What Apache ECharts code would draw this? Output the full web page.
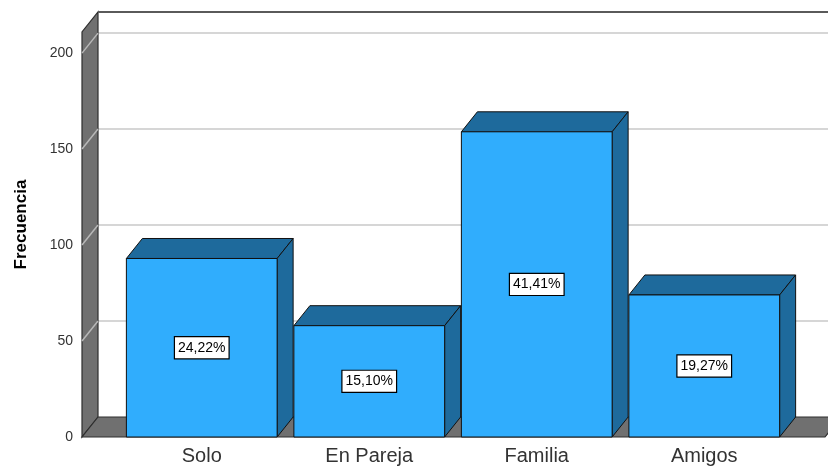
<!DOCTYPE html>
<html>
<head>
<meta charset="utf-8">
<script src="https://cdn.jsdelivr.net/npm/echarts@6/dist/echarts.min.js"></script>
<style>
  html, body { margin: 0; padding: 0; background: #fff; }
  #chart { width: 828px; height: 470px; }
</style>
</head>
<body>
<div id="chart"></div>
<script>
// datos (N = 384)
var categorias = ['Solo', 'En Pareja', 'Familia', 'Amigos'];
var frecuencias = [93, 58, 159, 74];
var porcentajes = ['24,22%', '15,10%', '41,41%', '19,27%'];
var yTicks = [0, 50, 100, 150, 200];

var FONT = '"Liberation Sans", Arial, sans-serif';
var DX = 16, DY = -20;          // profundidad del efecto 3D
var WALL_L = 36, WALL_R = 37;   // cuanto sobresale el suelo de las categorias

var chart = echarts.init(document.getElementById('chart'));

// paredes: izquierda, suelo, fondo con lineas de cuadricula
function renderWalls(params, api) {
    var cs = params.coordSys;
    var xl = cs.x - WALL_L, xr = cs.x + cs.width + WALL_R;
    var yt = cs.y, yb = cs.y + cs.height;
    var children = [];
    // lineas de cuadricula
    for (var i = 1; i < yTicks.length; i++) {
        var y = api.coord([0, yTicks[i]])[1];
        children.push({
            type: 'polyline',
            shape: { points: [[xl, y], [xl + DX, y + DY]] },
            style: { stroke: '#b8b8b8', lineWidth: 1.5, fill: null },
            z2: 3
        });
        children.push({
            type: 'line',
            shape: { x1: xl + DX, y1: y + DY, x2: xr + DX + 20, y2: y + DY },
            style: { stroke: '#d6d6d6', lineWidth: 2 },
            z2: 1
        });
    }
    // pared izquierda
    children.push({
        type: 'polygon',
        shape: { points: [[xl, yb], [xl, yt], [xl + DX, yt + DY], [xl + DX, yb + DY]] },
        style: { fill: '#707070', stroke: '#2e2e2e', lineWidth: 1.2 },
        z2: 2
    });
    // suelo
    children.push({
        type: 'polygon',
        shape: { points: [[xl, yb], [xr, yb], [xr + DX, yb + DY], [xl + DX, yb + DY]] },
        style: { fill: '#707070', stroke: '#2e2e2e', lineWidth: 1.2 },
        z2: 2
    });
    // borde superior del fondo
    children.push({
        type: 'line',
        shape: { x1: xl + DX, y1: yt + DY, x2: xr + DX + 20, y2: yt + DY },
        style: { stroke: '#5a5a5a', lineWidth: 2 },
        z2: 4
    });
    return { type: 'group', children: children };
}

function renderBar(params, api) {
    var idx = api.value(0), val = api.value(1);
    var p0 = api.coord([idx, 0]);
    var p1 = api.coord([idx, val]);
    var w = api.size([1, 0])[0] * 0.9;
    var x0 = p0[0] - w / 2, x1 = x0 + w;
    var yt = p1[1], yb = p0[1];
    var edge = { stroke: '#111', lineWidth: 1 };
    return {
        type: 'group',
        children: [
            {
                type: 'polygon',
                shape: { points: [[x0, yt], [x0 + DX, yt + DY], [x1 + DX, yt + DY], [x1, yt]] },
                style: Object.assign({ fill: '#1e6a9c' }, edge)
            },
            {
                type: 'polygon',
                shape: { points: [[x1, yt], [x1 + DX, yt + DY], [x1 + DX, yb + DY], [x1, yb]] },
                style: Object.assign({ fill: '#1e6a9c' }, edge)
            },
            {
                type: 'rect',
                shape: { x: x0, y: yt, width: w, height: yb - yt },
                style: Object.assign({ fill: '#30adfd' }, edge)
            },
            {
                type: 'text',
                x: (x0 + x1) / 2,
                y: (yt + yb) / 2,
                style: {
                    text: porcentajes[params.dataIndex],
                    font: '14px ' + FONT,
                    fill: '#000',
                    align: 'center',
                    verticalAlign: 'middle',
                    backgroundColor: '#fff',
                    borderColor: '#000',
                    borderWidth: 1.2,
                    padding: [4, 3, 3, 3]
                }
            }
        ]
    };
}

var option = {
    animation: false,
    backgroundColor: '#fff',
    grid: { left: 118, right: 40, top: 32, bottom: 33 },
    xAxis: {
        type: 'category',
        data: categorias,
        axisLine: { show: false },
        axisTick: { show: false },
        axisLabel: { margin: 9, fontSize: 20, color: '#333', fontFamily: FONT },
        splitLine: { show: false }
    },
    yAxis: {
        type: 'value',
        min: 0,
        max: 211,
        interval: 50,
        offset: WALL_L,
        name: 'Frecuencia',
        nameLocation: 'middle',
        nameRotate: 90,
        nameGap: 52,
        nameTextStyle: { fontSize: 17, fontWeight: 'bold', color: '#000', fontFamily: FONT, padding: [0, 0, 0, 20] },
        axisLine: { show: false },
        axisTick: { show: false },
        axisLabel: { margin: 9, fontSize: 14, color: '#333', fontFamily: FONT, showMaxLabel: false },
        splitLine: { show: false }
    },
    series: [
        {
            type: 'custom',
            renderItem: renderWalls,
            data: [[0, 0]],
            silent: true,
            z: 1
        },
        {
            type: 'custom',
            renderItem: renderBar,
            data: frecuencias.map(function (v, i) { return [i, v]; }),
            encode: { x: 0, y: 1 },
            z: 2
        }
    ]
};

chart.setOption(option);
</script>
</body>
</html>
